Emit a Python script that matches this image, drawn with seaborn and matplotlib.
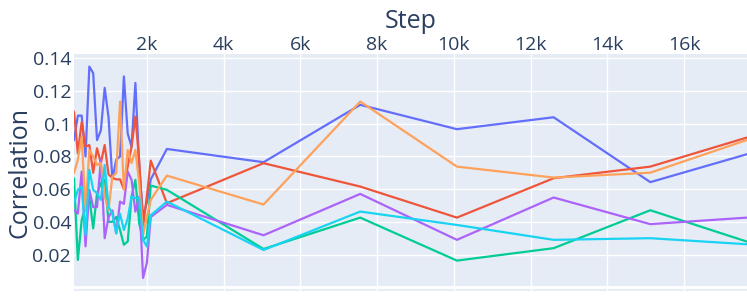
import pandas as pd
import numpy as np
import matplotlib.pyplot as plt
import seaborn as sns

# Evaluation steps: every 100 steps early on, then every 2520
steps = [100, 200, 300, 400, 500, 600, 700, 800, 900, 1000, 1100,
         1200, 1300, 1400, 1500, 1600, 1700, 1800, 1900, 2000, 2100,
         2520, 5040, 7560, 10080, 12600, 15120, 17640]

blue = [0.090, 0.105, 0.105, 0.080, 0.135, 0.131, 0.090, 0.096, 0.122, 0.104, 0.066,
        0.078, 0.080, 0.129, 0.094, 0.086, 0.125, 0.074, 0.043, 0.052, 0.066,
        0.0846, 0.0765, 0.1116, 0.0967, 0.1040, 0.0643, 0.0814]
red = [0.1075, 0.082, 0.101, 0.086, 0.087, 0.070, 0.085, 0.076, 0.087, 0.069, 0.067,
       0.066, 0.066, 0.060, 0.074, 0.086, 0.1044, 0.077, 0.037, 0.056, 0.0775,
       0.0514, 0.0759, 0.0616, 0.0426, 0.0667, 0.0738, 0.0916]
green = [0.0667, 0.0167, 0.041, 0.049, 0.055, 0.036, 0.0575, 0.0636, 0.0657, 0.040, 0.040,
         0.043, 0.035, 0.026, 0.028, 0.0555, 0.0657, 0.039, 0.029, 0.031, 0.0622,
         0.0596, 0.0234, 0.0426, 0.0163, 0.0239, 0.0471, 0.0279]
purple = [0.0473, 0.045, 0.0708, 0.025, 0.0596, 0.049, 0.049, 0.078, 0.030, 0.043, 0.047,
          0.033, 0.0524, 0.051, 0.0708, 0.0657, 0.0463, 0.0555, 0.0057, 0.015, 0.043,
          0.0504, 0.0318, 0.0571, 0.0290, 0.0549, 0.0386, 0.0426]
orange = [0.0698, 0.078, 0.092, 0.0473, 0.084, 0.080, 0.0748, 0.076, 0.0555, 0.0473, 0.0677,
          0.0698, 0.1136, 0.0596, 0.084, 0.076, 0.084, 0.0636, 0.032, 0.043, 0.0534,
          0.0683, 0.0506, 0.1136, 0.0738, 0.0671, 0.0701, 0.0901]
cyan = [0.0514, 0.0596, 0.0616, 0.032, 0.0718, 0.0596, 0.0575, 0.0534, 0.0748, 0.0493, 0.045,
        0.033, 0.045, 0.035, 0.042, 0.0555, 0.0545, 0.0545, 0.029, 0.0249, 0.044,
        0.0524, 0.0228, 0.0463, 0.0381, 0.0290, 0.0300, 0.0263]

series_names = ['s0', 's1', 's2', 's3', 's4', 's5']
series_values = [blue, red, green, purple, orange, cyan]
colors = ['#636EFA', '#EF553B', '#00CC96', '#AB63FA', '#FFA15A', '#19D3F3']

x_ticks = [2000, 4000, 6000, 8000, 10000, 12000, 14000, 16000]
x_tick_labels = ['2k', '4k', '6k', '8k', '10k', '12k', '14k', '16k']
y_ticks = [0.02, 0.04, 0.06, 0.08, 0.1, 0.12, 0.14]
y_tick_labels = ['0.02', '0.04', '0.06', '0.08', '0.1', '0.12', '0.14']


def main():
    # long-form frame for seaborn
    frames = []
    for name, vals in zip(series_names, series_values):
        frames.append(pd.DataFrame({'Step': steps, 'Correlation': vals, 'run': name}))
    df = pd.concat(frames, ignore_index=True)

    sns.set_theme(style="darkgrid")
    plt.rcParams['font.family'] = ['Open Sans', 'DejaVu Sans']

    fig = plt.figure(figsize=(7.47, 2.99), dpi=100)
    ax = fig.add_axes([74 / 747, 1 - 291 / 299, 673 / 747, 237 / 299])
    ax.set_facecolor('#E5ECF6')

    sns.lineplot(data=df, x='Step', y='Correlation', hue='run',
                 palette=dict(zip(series_names, colors)), linewidth=1.6,
                 legend=False, ax=ax, zorder=3)

    ax.axhline(0, color='white', linewidth=2, zorder=1)
    ax.grid(True, color='white', linewidth=1)
    ax.set_xlim(100, 17640)
    ax.set_ylim(-0.0023, 0.1427)

    text_color = '#2a3f5f'
    ax.set_xticks(x_ticks)
    ax.set_xticklabels(x_tick_labels)
    ax.set_yticks(y_ticks)
    ax.set_yticklabels(y_tick_labels)
    ax.xaxis.tick_top()
    ax.xaxis.set_label_position('top')
    ax.tick_params(axis='both', length=0, labelsize=14, colors=text_color)
    ax.tick_params(axis='x', pad=0)
    ax.tick_params(axis='y', pad=2)
    ax.set_xlabel('Step', fontsize=18, color=text_color)
    ax.set_ylabel('Correlation', fontsize=18, color=text_color)
    ax.xaxis.set_label_coords(0.5, (291 - 28) / 237)
    ax.yaxis.set_label_coords((33 - 74) / 673, 0.5)
    for s in ax.spines.values():
        s.set_visible(False)

    fig.savefig('out.png', dpi=100)


if __name__ == "__main__":
    main()
